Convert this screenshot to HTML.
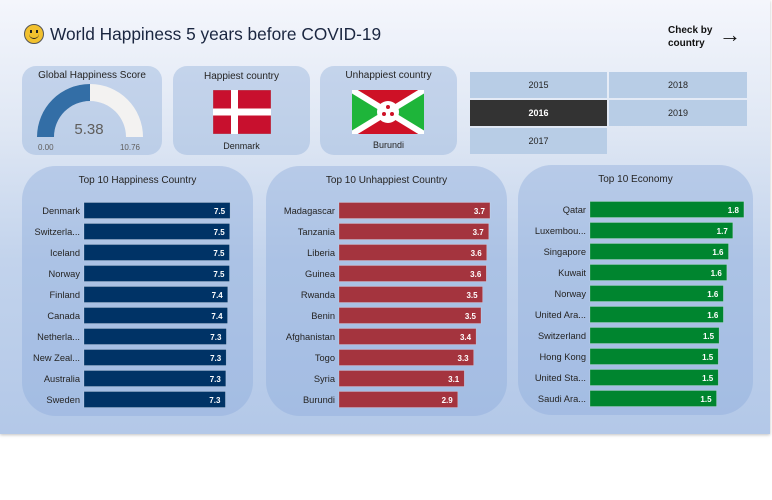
<!DOCTYPE html>
<html><head><meta charset="utf-8">
<style>
*{box-sizing:border-box;margin:0;padding:0}
body{width:772px;height:500px;background:#fff;font-family:"Liberation Sans","DejaVu Sans",sans-serif;position:relative;overflow:hidden}
#dash{position:absolute;left:0;top:0;width:770px;height:434px;background:linear-gradient(#f4f6fc 0%,#dfe7f4 30%,#c2d3ec 60%,#b3c8e8 100%);box-shadow:0 1px 3px rgba(0,0,0,.25)}
.card{position:absolute;background:rgba(150,180,220,.45);border-radius:14px}
.panel{position:absolute;background:rgba(140,172,220,.42);border-radius:34px}
.ttl{position:absolute;width:100%;text-align:center;font-size:10px;color:#252423}
.cell{position:absolute;background:#b8cde6;font-size:9px;color:#252423;text-align:center;line-height:26px}
svg text{font-family:"Liberation Sans","DejaVu Sans",sans-serif}
</style></head><body>
<div id="dash">
<div style="position:absolute;left:24px;top:24px;width:20px;height:20px;border-radius:50%;background:#f2c12e;border:1px solid #555">
 <div style="position:absolute;left:5px;top:5px;width:2px;height:3px;background:#222"></div>
 <div style="position:absolute;left:11px;top:5px;width:2px;height:3px;background:#222"></div>
 <div style="position:absolute;left:4px;top:8px;width:10px;height:6px;border-bottom:1.5px solid #222;border-radius:0 0 6px 6px"></div>
</div>
<div style="position:absolute;left:50px;top:24px;font-size:17.3px;color:#1a2640">World Happiness 5 years before COVID-19</div>
<div style="position:absolute;left:668px;top:24px;font-size:10px;font-weight:bold;line-height:13px;color:#111">Check by<br>country</div>
<div style="position:absolute;left:719px;top:22px;font-size:22px;color:#111">→</div>

<div class="card" style="left:22px;top:66px;width:140px;height:89px">
 <div class="ttl" style="top:4px">Global Happiness Score</div>
 <svg width="140" height="89" style="position:absolute;left:0;top:0">
  <path d="M15 71 A53 53 0 0 1 121 71 L104 71 A36 36 0 0 0 32 71 Z" fill="#f3f2f1"/>
  <path d="M15 71 A53 53 0 0 1 68 18 L68 35 A36 36 0 0 0 32 71 Z" fill="#336ea6"/>
  <text x="67" y="68" font-size="15" fill="#605e5c" text-anchor="middle">5.38</text>
  <text x="16" y="84" font-size="8" fill="#605e5c">0.00</text>
  <text x="118" y="84" font-size="8" fill="#605e5c" text-anchor="end">10.76</text>
 </svg>
</div>
<div class="card" style="left:173px;top:66px;width:137px;height:89px">
 <div class="ttl" style="top:5px">Happiest country</div>
 <svg width="58" height="44" style="position:absolute;left:40px;top:24px">
  <rect width="58" height="44" fill="#c8102e" stroke="#999" stroke-width=".5"/><rect x="18" width="7" height="44" fill="#fff"/><rect y="18.5" width="58" height="7" fill="#fff"/>
 </svg>
 <div class="ttl" style="top:75px;font-size:9px">Denmark</div>
</div>
<div class="card" style="left:320px;top:66px;width:137px;height:89px">
 <div class="ttl" style="top:4px">Unhappiest country</div>
 <svg width="72" height="44" style="position:absolute;left:32px;top:24px">
  <rect width="72" height="44" fill="#ce1126"/>
  <polygon points="0,0 36,22 0,44" fill="#1eb53a"/><polygon points="72,0 36,22 72,44" fill="#1eb53a"/>
  <line x1="0" y1="0" x2="72" y2="44" stroke="#fff" stroke-width="6"/><line x1="72" y1="0" x2="0" y2="44" stroke="#fff" stroke-width="6"/>
  <circle cx="36" cy="22" r="11" fill="#fff"/>
  <circle cx="36" cy="17" r="2" fill="#ce1126"/><circle cx="32" cy="24" r="2" fill="#ce1126"/><circle cx="40" cy="24" r="2" fill="#ce1126"/>
 </svg>
 <div class="ttl" style="top:74px;font-size:9px">Burundi</div>
</div>

<div class="cell" style="left:470px;top:72px;width:137px">2015</div>
<div class="cell" style="left:609px;top:72px;width:138px">2018</div>
<div class="cell" style="left:470px;top:100px;width:137px;background:#333;color:#fff;font-weight:bold">2016</div>
<div class="cell" style="left:609px;top:100px;width:138px">2019</div>
<div class="cell" style="left:470px;top:128px;width:137px">2017</div>

<div class="panel" style="left:22px;top:166px;width:231px;height:250px"><div class="ttl" style="top:9px">Top 10 Happiness Country</div><svg id="c1" width="231" height="250" style="position:absolute;left:0;top:0"></svg></div>
<div class="panel" style="left:266px;top:166px;width:241px;height:250px"><div class="ttl" style="top:9px">Top 10 Unhappiest Country</div><svg id="c2" width="241" height="250" style="position:absolute;left:0;top:0"></svg></div>
<div class="panel" style="left:518px;top:165px;width:235px;height:250px"><div class="ttl" style="top:9px">Top 10 Economy</div><svg id="c3" width="235" height="250" style="position:absolute;left:0;top:0"></svg></div>
</div>
<script>
const happyCountries=["Denmark","Switzerla...","Iceland","Norway","Finland","Canada","Netherla...","New Zeal...","Australia","Sweden"];
const happyValues=[7.53,7.51,7.50,7.50,7.41,7.40,7.34,7.33,7.31,7.29];
const unhappyCountries=["Madagascar","Tanzania","Liberia","Guinea","Rwanda","Benin","Afghanistan","Togo","Syria","Burundi"];
const unhappyValues=[3.70,3.67,3.62,3.61,3.52,3.48,3.36,3.30,3.07,2.91];
const econCountries=["Qatar","Luxembou...","Singapore","Kuwait","Norway","United Ara...","Switzerland","Hong Kong","United Sta...","Saudi Ara..."];
const econValues=[1.80,1.67,1.62,1.60,1.56,1.56,1.51,1.50,1.50,1.48];
const NS="http://www.w3.org/2000/svg";
function draw(id,cats,vals,x0,pxPer,color,name){
  const svg=document.getElementById(id);
  const y=i=>36+i*21;
  const x=v=>v*pxPer;
  cats.forEach((c,i)=>{
    const r=document.createElementNS(NS,"rect");
    r.setAttribute("x",x0);r.setAttribute("y",y(i)+0.5);r.setAttribute("width",x(vals[i]));r.setAttribute("height",16);
    r.setAttribute("fill",color);r.setAttribute("stroke","rgba(255,255,255,.35)");r.setAttribute("stroke-width","0.6");
    
    
    svg.appendChild(r);
    const t=document.createElementNS(NS,"text");
    t.setAttribute("x",x0-4);t.setAttribute("y",y(i)+12);t.setAttribute("text-anchor","end");t.setAttribute("font-size","9.3");t.setAttribute("fill","#252423");
    t.textContent=c;
    
    
    svg.appendChild(t);
    const v=document.createElementNS(NS,"text");
    v.setAttribute("x",x0+x(vals[i])-5);v.setAttribute("y",y(i)+12);v.setAttribute("text-anchor","end");v.setAttribute("font-size","8");v.setAttribute("font-weight","bold");v.setAttribute("fill","#fff");
    v.textContent=vals[i].toFixed(1);
    
    
    svg.appendChild(v);
  });
}
draw("c1",happyCountries,happyValues,62,19.4,"#003366","happiness");
draw("c2",unhappyCountries,unhappyValues,73,40.8,"#a4343e","unhappiness");
draw("c3",econCountries,econValues,72,85.5,"#00852f","economy");
</script>
</body></html>
